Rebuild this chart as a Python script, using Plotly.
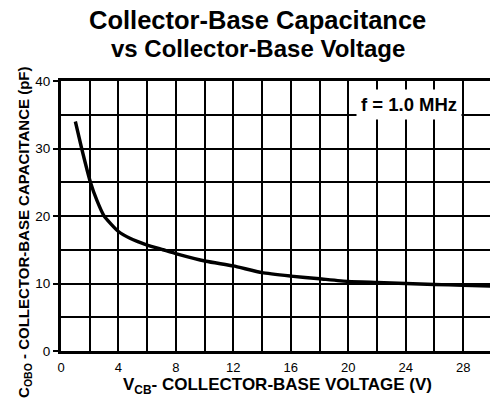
import plotly.graph_objects as go

# Data
vcb = [1.0, 1.44, 2.05, 2.5, 3.0, 4.0, 4.8, 6.0, 7.1, 8.05, 10.1, 12.0, 14.0, 16.0, 18.0, 20.0, 22.0, 24.0, 26.0, 28.0, 30.0]
cobo = [34.0, 30.0, 25.0, 22.3, 20.0, 17.7, 16.7, 15.7, 15.0, 14.4, 13.3, 12.6, 11.6, 11.1, 10.7, 10.3, 10.15, 10.0, 9.85, 9.75, 9.6]

x_ticks = [0, 4, 8, 12, 16, 20, 24, 28]
y_ticks = [0, 10, 20, 30, 40]

title_lines = ["Collector-Base Capacitance", "vs Collector-Base Voltage"]
x_title = "V<sub>CB</sub>- COLLECTOR-BASE VOLTAGE (V)"
y_title = "C<sub>OBO</sub> - COLLECTOR-BASE CAPACITANCE (pF)"
note = "f = 1.0 MHz"

FONT = "Liberation Sans, Arial, Helvetica, sans-serif"

fig = go.Figure()
fig.add_trace(go.Scatter(x=vcb, y=cobo, mode="lines",
                         line=dict(color="black", width=3.4, shape="spline", smoothing=0.5),
                         showlegend=False, hoverinfo="skip"))

fig.update_layout(
    width=490, height=411,
    margin=dict(l=61, r=0, t=81, b=60, autoexpand=False),
    paper_bgcolor="white", plot_bgcolor="white",
    font=dict(family=FONT, color="black"),
    showlegend=False,
)

fig.update_xaxes(
    range=[0, 29.87], tickvals=x_ticks, ticktext=[str(v) for v in x_ticks],
    showgrid=True, gridcolor="black", gridwidth=2,
    minor=dict(dtick=2, tick0=0, showgrid=True, gridcolor="black", gridwidth=2),
    showline=True, linecolor="black", linewidth=3, mirror=True,
    ticks="", ticklabelstandoff=2, automargin=False,
    tickfont=dict(family=FONT, size=13, color="black"),
    zeroline=False,
)
fig.update_yaxes(
    range=[0, 40], tickvals=y_ticks, ticktext=[str(v) for v in y_ticks],
    showgrid=True, gridcolor="black", gridwidth=2,
    minor=dict(dtick=5, tick0=0, showgrid=True, gridcolor="black", gridwidth=2),
    showline=True, linecolor="black", linewidth=3, mirror=False,
    ticks="outside", ticklen=5, tickwidth=2, tickcolor="black", automargin=False,
    tickfont=dict(family=FONT, size=13.5, color="black"),
    zeroline=False,
)

ann = []
ann.append(dict(text="<b>%s</b>" % title_lines[0], xref="paper", yref="paper",
                x=0.459, y=1.226, xanchor="center", yanchor="middle", showarrow=False,
                font=dict(family=FONT, size=25.5, color="black")))
ann.append(dict(text="<b>%s</b>" % title_lines[1], xref="paper", yref="paper",
                x=0.459, y=1.122, xanchor="center", yanchor="middle", showarrow=False,
                font=dict(family=FONT, size=24, color="black")))
ann.append(dict(text="<b>%s</b>" % x_title, xref="paper", yref="paper",
                x=0.505, y=-0.13, xanchor="center", yanchor="middle", showarrow=False,
                font=dict(family=FONT, size=17, color="black")))
ann.append(dict(text="<b>%s</b>" % y_title, xref="paper", yref="paper",
                x=-0.084, y=0.441, xanchor="center", yanchor="middle", showarrow=False,
                textangle=-90, font=dict(family=FONT, size=15, color="black")))
ann.append(dict(text="<b>%s</b>" % note, xref="x", yref="y",
                x=24.2, y=36.45, xanchor="center", yanchor="middle", showarrow=False,
                bgcolor="white", borderpad=4,
                font=dict(family=FONT, size=18.5, color="black")))
fig.update_layout(annotations=ann)

fig.write_html("out.html", config={"displayModeBar": False},
               post_script="document.body.style.margin='0';document.body.style.overflow='hidden';")
